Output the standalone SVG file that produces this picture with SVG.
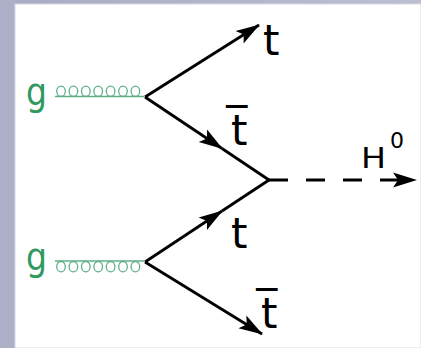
<svg xmlns="http://www.w3.org/2000/svg" width="421" height="348" viewBox="0 0 421 348">
<defs>
<linearGradient id="bg" x1="0" y1="0" x2="1" y2="0">
<stop offset="0" stop-color="#a9abc4"/>
<stop offset="1" stop-color="#bcbed2"/>
</linearGradient>
<marker id="ah" markerUnits="userSpaceOnUse" markerWidth="26" markerHeight="18" refX="23" refY="9" orient="auto" viewBox="0 0 26 18">
<path d="M0,1.5 L24,9 L0,16.5 L5,9 z" fill="#000"/>
</marker>
<style>
.f{stroke:#000;stroke-width:2.8;fill:none}
.gl{stroke:#5fb088;stroke-width:1.3;fill:none}
.lbl{font-family:"DejaVu Sans",sans-serif;fill:#000}
.gt{font-family:"DejaVu Sans",sans-serif;fill:#2f9960}
</style>
</defs>
<rect x="0" y="0" width="421" height="348" fill="url(#bg)"/>
<rect x="0" y="0" width="15" height="348" fill="#aeb0c7"/>
<rect x="15" y="4" width="406" height="344" fill="#ffffff" stroke="#d8d9e6" stroke-width="1"/>
<g id="connectors">
<line class="f" x1="145" y1="97" x2="259" y2="25" marker-end="url(#ah)"/>
<line class="f" x1="145" y1="97" x2="222" y2="148.5" marker-end="url(#ah)"/>
<line class="f" x1="222" y1="148.5" x2="269" y2="180"/>
<line class="f" x1="145" y1="262" x2="222" y2="211" marker-end="url(#ah)"/>
<line class="f" x1="222" y1="211" x2="269" y2="180"/>
<line class="f" x1="145" y1="262" x2="262" y2="334" marker-end="url(#ah)"/>
<line class="f" x1="269" y1="180" x2="416" y2="180" stroke-dasharray="19 18" marker-end="url(#ah)"/>
<g id="gluon-top">
<line class="gl" x1="55" y1="96.5" x2="144" y2="96.5"/>
<ellipse class="gl" cx="61" cy="91.3" rx="4.3" ry="5.2"/>
<ellipse class="gl" cx="73.4" cy="91.3" rx="4.3" ry="5.2"/>
<ellipse class="gl" cx="85.8" cy="91.3" rx="4.3" ry="5.2"/>
<ellipse class="gl" cx="98.2" cy="91.3" rx="4.3" ry="5.2"/>
<ellipse class="gl" cx="110.6" cy="91.3" rx="4.3" ry="5.2"/>
<ellipse class="gl" cx="123" cy="91.3" rx="4.3" ry="5.2"/>
<ellipse class="gl" cx="135.4" cy="91.3" rx="4.3" ry="5.2"/>
</g>
<g id="gluon-bottom">
<line class="gl" x1="55" y1="261" x2="144" y2="261"/>
<ellipse class="gl" cx="61" cy="266.7" rx="4.3" ry="5.2"/>
<ellipse class="gl" cx="73.4" cy="266.7" rx="4.3" ry="5.2"/>
<ellipse class="gl" cx="85.8" cy="266.7" rx="4.3" ry="5.2"/>
<ellipse class="gl" cx="98.2" cy="266.7" rx="4.3" ry="5.2"/>
<ellipse class="gl" cx="110.6" cy="266.7" rx="4.3" ry="5.2"/>
<ellipse class="gl" cx="123" cy="266.7" rx="4.3" ry="5.2"/>
<ellipse class="gl" cx="135.4" cy="266.7" rx="4.3" ry="5.2"/>
</g>
</g>
<g id="g-top"><text class="gt" x="26" y="105" font-size="38" textLength="21" lengthAdjust="spacingAndGlyphs">g</text></g>
<g id="g-bottom"><text class="gt" x="26" y="270" font-size="38" textLength="21" lengthAdjust="spacingAndGlyphs">g</text></g>
<g id="t-top"><text class="lbl" x="263" y="55" font-size="42">t</text></g>
<g id="tbar-mid"><text class="lbl" x="231" y="145" font-size="42">t̅</text></g>
<g id="t-mid"><text class="lbl" x="231" y="248" font-size="42">t</text></g>
<g id="tbar-bottom"><text class="lbl" x="261" y="328" font-size="42">t̅</text></g>
<g id="higgs"><text class="lbl" x="361" y="168" font-size="29" textLength="25" lengthAdjust="spacingAndGlyphs">H</text><text class="lbl" x="390" y="148" font-size="22">0</text></g>
</svg>
